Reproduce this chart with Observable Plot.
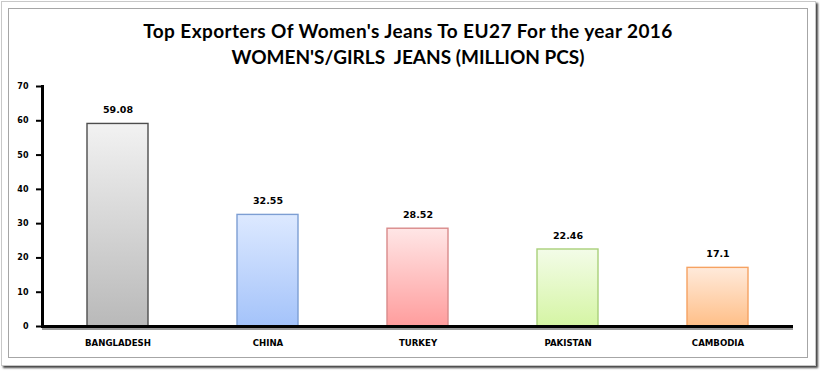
<!DOCTYPE html>
<html>
<head>
<meta charset="utf-8">
<script src="https://cdn.jsdelivr.net/npm/d3@7"></script>
<script src="https://cdn.jsdelivr.net/npm/@observablehq/plot@0.6"></script>
<style>
  html, body { margin: 0; padding: 0; background: #fff; }
  #wrap { position: relative; width: 820px; height: 371px; overflow: hidden; background: #fff; }
  #outer { position: absolute; left: 1px; top: 1px; width: 813px; height: 363px; border: 1px solid #c8c8c8; box-shadow: 2px 2px 2px #444; background: #fff; }
  #inner { position: absolute; left: 8px; top: 8px; width: 798px; height: 348px; border: 1px solid #a6a6a6; }
  #title { position: absolute; left: 8px; top: 18px; width: 800px; text-align: center;
           font-family: Lato, "Open Sans", sans-serif; font-weight: bold; font-size: 19px; line-height: 26px; color: #000; }
  #title .l1 { letter-spacing: 0.4px; }
  #chart { position: absolute; left: 0; top: 70px; }
</style>
</head>
<body>
<div id="wrap">
  <div id="outer"></div>
  <div id="inner"></div>
  <div id="title"><span class="l1">Top Exporters Of Women's Jeans To EU27 For the year 2016</span><br>WOMEN'S/GIRLS&nbsp; JEANS (MILLION PCS)</div>
  <svg width="0" height="0" style="position:absolute">
    <defs id="grads"></defs>
  </svg>
  <div id="chart"></div>
</div>
<script>
const countries = ["BANGLADESH", "CHINA", "TURKEY", "PAKISTAN", "CAMBODIA"];
const values = [59.08, 32.55, 28.52, 22.46, 17.1];
const valueLabels = ["59.08", "32.55", "28.52", "22.46", "17.1"];
const yTicks = [0, 10, 20, 30, 40, 50, 60, 70];

// styles (separate from data)
const gradTop = ["#f2f2f2", "#dde9ff", "#ffe6e6", "#f3fce8", "#ffeadb"];
const gradBottom = ["#b9b9b9", "#a4c3fa", "#ff9d9d", "#d5f5a4", "#ffbf88"];
const strokes = ["#4d4d4d", "#7d9ed3", "#d98a8a", "#a9d07a", "#f6a262"];

const defs = d3.select("#grads");
countries.forEach((c, i) => {
  const g = defs.append("linearGradient").attr("id", "g" + i)
    .attr("x1", 0).attr("y1", 0).attr("x2", 0).attr("y2", 1);
  g.append("stop").attr("offset", "0%").attr("stop-color", gradTop[i]);
  g.append("stop").attr("offset", "100%").attr("stop-color", gradBottom[i]);
});

const data = countries.map((c, i) => ({country: c, value: values[i], label: valueLabels[i], idx: i}));

const chart = Plot.plot({
  width: 820,
  height: 290,
  marginLeft: 42,
  marginRight: 27,
  marginTop: 16,
  marginBottom: 34,
  style: {fontFamily: "DejaVu Sans, sans-serif", fontWeight: "bold", fontSize: "8.5px", color: "#000", background: "transparent"},
  x: {domain: countries, paddingInner: 0.595, paddingOuter: 0.2975, label: null},
  y: {domain: [0, 70], label: null},
  color: {type: "identity"},
  marks: [
    Plot.barY(data, {x: "country", y: "value", fill: d => `url(#g${d.idx})`, stroke: d => strokes[d.idx], strokeWidth: 1.4, inset: 0}),
    Plot.text(data, {x: "country", y: "value", text: "label", dy: -14, fontSize: 9.5, fontWeight: "bold", fill: "#000"}),
    Plot.axisY({ticks: yTicks, tickSize: 6, tickPadding: 8, strokeWidth: 2, tickFormat: d => String(d), fontSize: 8, fontWeight: "bold", label: null}),
    Plot.axisX({tickSize: 0, tickPadding: 13, fontSize: 8.6, fontWeight: "bold", label: null}),
    Plot.ruleY([0], {stroke: "#999", strokeWidth: 2, dy: 2.5}),
    Plot.ruleY([0], {stroke: "#000", strokeWidth: 3}),
    Plot.frame({anchor: "left", stroke: "#000", strokeWidth: 3})
  ]
});
document.getElementById("chart").appendChild(chart);
</script>
</body>
</html>
